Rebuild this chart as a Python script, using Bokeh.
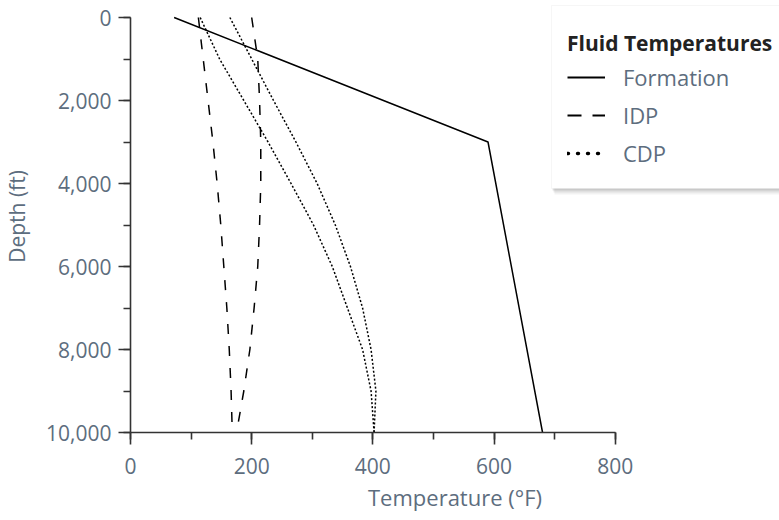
from bokeh.plotting import figure
from bokeh.models import (Range1d, SingleIntervalTicker, NumeralTickFormatter,
                          Legend, LegendItem, BoxAnnotation, Title)
from bokeh.embed import file_html
from bokeh.resources import INLINE

# Data (depth in ft, temperature in °F)
formation_depth = [0, 3000, 10000]
formation_temp = [72, 590, 680]

idp_depth = [0, 1000, 2000, 3000, 4000, 5000, 6000, 7000, 8000, 9000, 10000]
idp_left_temp = [112, 120, 128, 136, 143, 149, 154, 159, 163, 166, 168]
idp_right_temp = [200, 210, 213, 215, 215, 213, 210, 204, 197, 187, 175]

cdp_depth = [0, 1000, 2000, 3000, 4000, 5000, 6000, 7000, 8000, 9000, 10000]
cdp_left_temp = [115, 147, 187, 227, 265, 302, 333, 358, 383, 397, 402]
cdp_right_temp = [164, 200, 236, 273, 308, 338, 363, 383, 397, 405, 402]

series_names = ["Formation", "IDP", "CDP"]
x_title = "Temperature (°F)"
y_title = "Depth (ft)"
legend_title = "Fluid Temperatures"

FONT = "Open Sans"
LABEL_COLOR = "#5d6d7e"
AXIS_COLOR = "#333333"

# The frame spans the whole canvas width/top so the legend box is not clipped;
# the axes themselves are bounded to the data extents 0..800 and 0..10,000.
X_MAX = 800 * (779 - 127) / (614 - 127)
Y_TOP = -10000 * 17 / (432 - 17)

p = figure(width=779, height=520, output_backend="svg", toolbar_location=None,
           x_range=Range1d(0, X_MAX), y_range=Range1d(10000, Y_TOP),
           min_border_left=127, min_border_right=0, min_border_top=0,
           min_border_bottom=88)
p.outline_line_color = None
p.xgrid.grid_line_color = None
p.ygrid.grid_line_color = None
p.background_fill_color = "white"
p.border_fill_color = "white"

p.xaxis.ticker = SingleIntervalTicker(interval=200, num_minor_ticks=2)
p.xaxis.bounds = (0, 800)
p.yaxis.ticker = SingleIntervalTicker(interval=2000, num_minor_ticks=2)
p.yaxis.bounds = (0, 10000)
p.yaxis.formatter = NumeralTickFormatter(format="0,0")
p.yaxis.axis_label = y_title

for ax in (p.xaxis[0], p.yaxis[0]):
    ax.axis_line_color = AXIS_COLOR
    ax.axis_line_width = 1.6
    ax.major_tick_line_color = AXIS_COLOR
    ax.major_tick_line_width = 1.6
    ax.minor_tick_line_color = AXIS_COLOR
    ax.minor_tick_line_width = 1.6
    ax.major_tick_in = 0
    ax.major_tick_out = 12
    ax.minor_tick_in = 0
    ax.minor_tick_out = 7
    ax.major_label_text_font = FONT
    ax.major_label_text_font_size = "21px"
    ax.major_label_text_color = LABEL_COLOR
    ax.axis_label_text_font = FONT
    ax.axis_label_text_font_size = "21px"
    ax.axis_label_text_color = LABEL_COLOR
    ax.axis_label_text_font_style = "normal"

p.xaxis.major_label_standoff = 13
p.yaxis.major_label_standoff = 7
p.yaxis.axis_label_standoff = 12

# x-axis title, centred under the 0..800 axis (the frame extends further right)
p.add_layout(Title(text=x_title, align="center", offset=-56, text_font=FONT,
                   text_font_size="22px", text_color=LABEL_COLOR,
                   text_font_style="normal", standoff=7), "below")

p.line(formation_temp, formation_depth, line_color="black", line_width=1.5)
p.line(idp_left_temp, idp_depth, line_color="black", line_width=1.5, line_dash="10 12")
p.line(idp_right_temp, idp_depth, line_color="black", line_width=1.5, line_dash="10 12")
p.line(cdp_left_temp, cdp_depth, line_color="black", line_width=1.5, line_dash="2 2")
p.line(cdp_right_temp, cdp_depth, line_color="black", line_width=1.5, line_dash="2 2")

# legend key glyphs (heavier strokes, as in the reference key); no visible data
nan = float("nan")
k_form = p.line([nan], [nan], line_color="black", line_width=2.2)
k_idp = p.line([nan], [nan], line_color="black", line_width=2.2, line_dash="14 11")
k_cdp = p.line([nan], [nan], line_color="black", line_width=3.4, line_dash="1 9",
               line_cap="round")

# legend panel with a soft shadow
for dx, dy, a in [(1, 2, 0.10), (2, 4, 0.07), (3, 6, 0.05)]:
    p.add_layout(BoxAnnotation(left=551 + dx, right=800, top=5 + dy, bottom=188 + dy,
                               left_units="canvas", right_units="canvas",
                               top_units="canvas", bottom_units="canvas",
                               fill_color="black", fill_alpha=a, line_color=None))
p.add_layout(BoxAnnotation(left=551, right=800, top=5, bottom=188,
                           left_units="canvas", right_units="canvas",
                           top_units="canvas", bottom_units="canvas",
                           fill_color="white", fill_alpha=1.0,
                           line_color="#e2e2e2", line_width=1))

legend = Legend(items=[
    LegendItem(label=series_names[0], renderers=[k_form]),
    LegendItem(label=series_names[1], renderers=[k_idp]),
    LegendItem(label=series_names[2], renderers=[k_cdp]),
], location=(417, 244))
legend.title = legend_title
legend.title_text_font = FONT
legend.title_text_font_style = "bold"
legend.title_text_font_size = "21px"
legend.title_text_color = "#222222"
legend.title_standoff = 5
legend.label_text_font = FONT
legend.label_text_font_size = "22px"
legend.label_text_color = LABEL_COLOR
legend.glyph_width = 38
legend.glyph_height = 30
legend.label_height = 30
legend.label_standoff = 18
legend.spacing = 8
legend.padding = 20
legend.margin = 0
legend.border_line_color = "white"
legend.border_line_alpha = 0.0
legend.background_fill_alpha = 0.0
p.add_layout(legend, "center")

open("out.html", "w").write(file_html(p, INLINE))
